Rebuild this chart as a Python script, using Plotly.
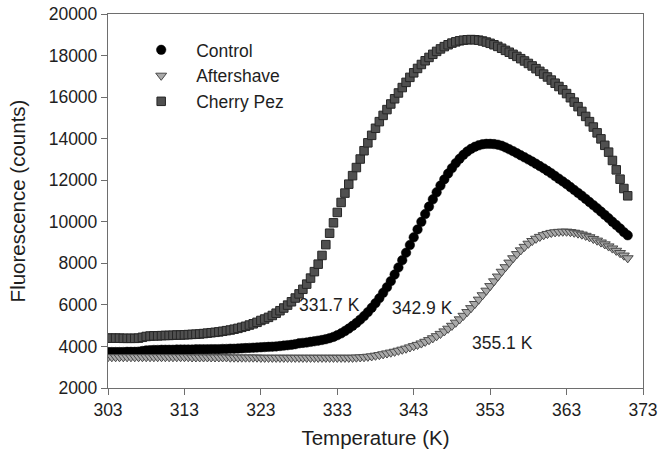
import plotly.graph_objects as go

temperature = [
    303, 303.5, 304, 304.5, 305, 305.5, 306, 306.5, 307, 307.5,
    308, 308.5, 309, 309.5, 310, 310.5, 311, 311.5, 312, 312.5,
    313, 313.5, 314, 314.5, 315, 315.5, 316, 316.5, 317, 317.5,
    318, 318.5, 319, 319.5, 320, 320.5, 321, 321.5, 322, 322.5,
    323, 323.5, 324, 324.5, 325, 325.5, 326, 326.5, 327, 327.5,
    328, 328.5, 329, 329.5, 330, 330.5, 331, 331.5, 332, 332.5,
    333, 333.5, 334, 334.5, 335, 335.5, 336, 336.5, 337, 337.5,
    338, 338.5, 339, 339.5, 340, 340.5, 341, 341.5, 342, 342.5,
    343, 343.5, 344, 344.5, 345, 345.5, 346, 346.5, 347, 347.5,
    348, 348.5, 349, 349.5, 350, 350.5, 351, 351.5, 352, 352.5,
    353, 353.5, 354, 354.5, 355, 355.5, 356, 356.5, 357, 357.5,
    358, 358.5, 359, 359.5, 360, 360.5, 361, 361.5, 362, 362.5,
    363, 363.5, 364, 364.5, 365, 365.5, 366, 366.5, 367, 367.5,
    368, 368.5, 369, 369.5, 370, 370.5, 371,
]

control = [
    3730, 3730, 3730, 3730, 3730, 3740, 3740, 3740, 3750, 3780,
    3810, 3820, 3830, 3830, 3840, 3840, 3840, 3840, 3850, 3850,
    3850, 3850, 3850, 3860, 3860, 3860, 3860, 3870, 3870, 3870,
    3880, 3880, 3890, 3890, 3900, 3910, 3920, 3930, 3940, 3950,
    3960, 3970, 3980, 3990, 4000, 4020, 4040, 4060, 4080, 4110,
    4150, 4170, 4190, 4220, 4250, 4280, 4310, 4350, 4400, 4460,
    4540, 4630, 4740, 4860, 4990, 5130, 5290, 5460, 5650, 5860,
    6080, 6320, 6580, 6850, 7140, 7460, 7800, 8150, 8510, 8880,
    9250, 9630, 10000, 10370, 10730, 11080, 11420, 11740, 12040, 12320,
    12580, 12820, 13030, 13220, 13380, 13510, 13610, 13680, 13730, 13750,
    13750, 13740, 13710, 13660, 13580, 13490, 13400, 13300, 13200, 13100,
    13000, 12900, 12790, 12680, 12570, 12450, 12330, 12200, 12070, 11940,
    11810, 11670, 11530, 11390, 11250, 11100, 10950, 10800, 10650, 10490,
    10330, 10170, 10000, 9840, 9680, 9500, 9350,
]

aftershave = [
    3490, 3490, 3490, 3490, 3490, 3490, 3490, 3490, 3490, 3490,
    3490, 3490, 3490, 3490, 3490, 3490, 3490, 3490, 3490, 3490,
    3490, 3490, 3480, 3480, 3480, 3480, 3480, 3480, 3480, 3480,
    3480, 3480, 3470, 3470, 3470, 3470, 3470, 3470, 3470, 3470,
    3460, 3460, 3460, 3460, 3460, 3460, 3460, 3460, 3460, 3460,
    3460, 3460, 3460, 3460, 3460, 3460, 3460, 3460, 3460, 3460,
    3460, 3460, 3460, 3460, 3460, 3470, 3480, 3490, 3510, 3530,
    3560, 3590, 3630, 3670, 3710, 3750, 3800, 3850, 3900, 3960,
    4020, 4080, 4150, 4230, 4310, 4400, 4500, 4610, 4730, 4860,
    5000, 5150, 5310, 5480, 5660, 5850, 6050, 6260, 6470, 6690,
    6910, 7140, 7370, 7600, 7820, 8040, 8250, 8450, 8630, 8800,
    8950, 9080, 9190, 9280, 9360, 9420, 9470, 9500, 9520, 9530,
    9530, 9510, 9480, 9440, 9390, 9330, 9260, 9180, 9100, 9010,
    8920, 8820, 8720, 8610, 8500, 8380, 8250,
]

cherry_pez = [
    4400, 4400, 4400, 4400, 4390, 4390, 4390, 4390, 4400, 4440,
    4480, 4500, 4510, 4510, 4520, 4530, 4530, 4540, 4550, 4550,
    4560, 4570, 4580, 4590, 4600, 4620, 4640, 4660, 4680, 4700,
    4730, 4760, 4790, 4830, 4870, 4920, 4970, 5030, 5090, 5160,
    5250, 5320, 5400, 5490, 5600, 5720, 5850, 5990, 6150, 6330,
    6530, 6750, 7000, 7290, 7600, 7960, 8380, 8900, 9450, 9950,
    10450, 10930, 11380, 11810, 12220, 12610, 13020, 13420, 13800, 14160,
    14500, 14820, 15120, 15400, 15670, 15920, 16200, 16460, 16710, 16950,
    17170, 17380, 17570, 17750, 17910, 18060, 18200, 18320, 18430, 18520,
    18600, 18660, 18710, 18740, 18760, 18770, 18760, 18740, 18700, 18650,
    18590, 18520, 18440, 18350, 18250, 18160, 18060, 17960, 17850, 17740,
    17620, 17500, 17370, 17240, 17110, 16970, 16820, 16670, 16510, 16350,
    16170, 15970, 15760, 15540, 15310, 15070, 14820, 14560, 14280, 13990,
    13680, 13350, 12950, 12500, 12050, 11600, 11250,
]

labels = ["331.7 K", "342.9 K", "355.1 K"]
label_x = [332.0, 344.2, 354.6]
label_y = [6000, 5850, 4170]

x_ticks = [303, 313, 323, 333, 343, 353, 363, 373]
y_ticks = [2000, 4000, 6000, 8000, 10000, 12000, 14000, 16000, 18000, 20000]

FONT = "Liberation Sans, Arial, sans-serif"
TXT = "#1e1e1e"
AX = "#6e6e6e"

fig = go.Figure()
fig.add_trace(go.Scatter(
    x=temperature, y=control, mode="markers", name="Control",
    marker=dict(symbol="circle", size=9.5, color="#000000",
                line=dict(color="#000000", width=0.5)),
))
fig.add_trace(go.Scatter(
    x=temperature, y=aftershave, mode="markers", name="Aftershave",
    marker=dict(symbol="triangle-down", size=9.5, color="#a9a9a9",
                line=dict(color="#4a4a4a", width=1)),
))
fig.add_trace(go.Scatter(
    x=temperature, y=cherry_pez, mode="markers", name="Cherry Pez",
    marker=dict(symbol="square", size=8.5, color="#505050",
                line=dict(color="#262626", width=1)),
))

for t, lx, ly in zip(labels, label_x, label_y):
    fig.add_annotation(x=lx, y=ly, text=t, showarrow=False,
                       font=dict(family=FONT, size=17.5, color=TXT),
                       xanchor="center", yanchor="middle")

fig.update_layout(
    width=661, height=457,
    margin=dict(l=108, r=18, t=14, b=69, autoexpand=False),
    paper_bgcolor="white", plot_bgcolor="white",
    font=dict(family=FONT, size=17, color=TXT),
    showlegend=True,
    legend=dict(
        x=0.034, y=0.952, xanchor="left", yanchor="top",
        bgcolor="rgba(0,0,0,0)", borderwidth=0,
        font=dict(family=FONT, size=17.5, color=TXT),
        itemwidth=60, tracegroupgap=0,
    ),
    xaxis=dict(
        range=[303, 373], tickmode="array", tickvals=x_ticks,
        ticktext=[str(v) for v in x_ticks],
        showgrid=False, zeroline=False, automargin=False,
        showline=True, linecolor=AX, linewidth=1.3, mirror=True,
        ticks="outside", ticklen=6, tickcolor=AX, tickwidth=1.3,
        tickfont=dict(family=FONT, size=17.5, color=TXT),
        title=dict(text="Temperature (K)", standoff=11,
                   font=dict(family=FONT, size=20.5, color=TXT)),
    ),
    yaxis=dict(
        range=[2000, 20000], tickmode="array", tickvals=y_ticks,
        ticktext=[str(v) for v in y_ticks],
        showgrid=False, zeroline=False, automargin=False,
        showline=True, linecolor=AX, linewidth=1.3, mirror=True,
        ticks="outside", ticklen=6, tickcolor=AX, tickwidth=1.3,
        tickfont=dict(family=FONT, size=17.5, color=TXT),
        title=dict(text="Fluorescence (counts)", standoff=17,
                   font=dict(family=FONT, size=20.5, color=TXT)),
    ),
)

# Remove the default 8px page margin so the figure sits at the window's corner.
fig.write_html(
    "out.html",
    config={"displayModeBar": False},
    post_script="document.body.style.margin='0';document.body.style.overflow='hidden';",
)
